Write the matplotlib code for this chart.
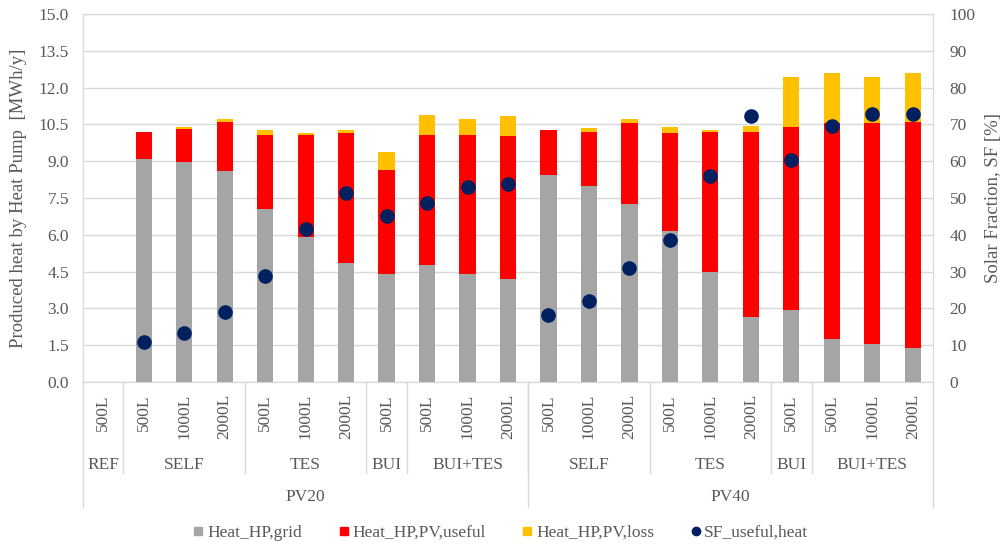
import numpy as np
import matplotlib
matplotlib.use('Agg')
import matplotlib.pyplot as plt
from matplotlib.lines import Line2D

plt.rcParams['font.family'] = ['Liberation Serif', 'DejaVu Serif']

# categories (REF + PV20 + PV40)
tanks = ['500L',
         '500L', '1000L', '2000L', '500L', '1000L', '2000L', '500L', '500L', '1000L', '2000L',
         '500L', '1000L', '2000L', '500L', '1000L', '2000L', '500L', '500L', '1000L', '2000L']
groups = ['REF', 'SELF', 'TES', 'BUI', 'BUI+TES', 'SELF', 'TES', 'BUI', 'BUI+TES']
group_sizes = [1, 3, 3, 1, 3, 3, 3, 1, 3]
pv_labels = ['PV20', 'PV40']
pv_sizes = [11, 10]

# MWh/y
heat_grid = [0.0,
             9.10, 8.96, 8.61, 7.06, 5.90, 4.86, 4.41, 4.78, 4.41, 4.18,
             8.43, 7.97, 7.25, 6.14, 4.50, 2.64, 2.94, 1.77, 1.55, 1.40]
heat_pv_useful = [0.0,
                  1.09, 1.35, 1.99, 3.01, 4.17, 5.29, 4.23, 5.29, 5.66, 5.83,
                  1.83, 2.22, 3.31, 4.01, 5.69, 7.55, 7.44, 8.77, 8.99, 9.20]
heat_pv_loss = [0.0,
                0.02, 0.07, 0.11, 0.19, 0.07, 0.11, 0.75, 0.80, 0.64, 0.82,
                0.02, 0.15, 0.15, 0.23, 0.07, 0.25, 2.05, 2.06, 1.89, 2.00]
# %
sf_useful = [np.nan,
             10.9, 13.4, 19.1, 28.9, 41.5, 51.4, 45.2, 48.6, 53.1, 53.9,
             18.3, 21.9, 31.0, 38.7, 55.9, 72.3, 60.4, 69.5, 72.7, 72.7]

c_grid = '#A5A5A5'
c_use = '#FF0000'
c_loss = '#FFC000'
c_sf = '#002060'
c_txt = '#595959'
c_line = '#D9D9D9'
fs = 12.5

fig = plt.figure(figsize=(10.03, 5.44), dpi=100)
ax = fig.add_axes([83/1003, 1-382/544, 850/1003, 368/544])
x = np.arange(len(tanks))
g = np.array(heat_grid)
u = np.array(heat_pv_useful)
lo = np.array(heat_pv_loss)
w = 0.4
ax.bar(x, g, w, color=c_grid, zorder=2)
ax.bar(x, u, w, bottom=g, color=c_use, zorder=2)
ax.bar(x, lo, w, bottom=g+u, color=c_loss, zorder=2)

ax.set_xlim(-0.5, len(tanks)-0.5)
ax.set_ylim(0, 15)
ax.set_yticks(np.arange(0, 15.01, 1.5))
ax.set_yticklabels(['%.1f' % v for v in np.arange(0, 15.01, 1.5)])
ax.grid(axis='y', color=c_line, lw=1, zorder=0)
ax.set_xticks([])
ax.tick_params(axis='y', length=0, labelsize=fs, labelcolor=c_txt, pad=10)
for s in ax.spines.values():
    s.set_color(c_line)
ax.set_ylabel('Produced heat by Heat Pump  [MWh/y]', fontsize=13.5, color=c_txt)
ax.yaxis.set_label_coords(-0.066, 0.5)

ax2 = ax.twinx()
ax2.set_ylim(0, 100)
ax2.set_yticks(np.arange(0, 101, 10))
ax2.tick_params(axis='y', length=0, labelsize=fs, labelcolor=c_txt, pad=12)
for s in ax2.spines.values():
    s.set_color(c_line)
ax2.plot(x, sf_useful, 'o', color=c_sf, ms=9.5, zorder=5)
ax2.set_ylabel('Solar Fraction, SF [%]', fontsize=13.5, color=c_txt)
ax2.yaxis.set_label_coords(1.061, 0.5)

# multi-level category axis
tr = ax.get_xaxis_transform()
for i, t in enumerate(tanks):
    ax.text(i, -0.033, t, rotation=90, ha='center', va='top', fontsize=fs, color=c_txt, transform=tr)

start = 0
for name, n in zip(groups, group_sizes):
    ax.text(start + n/2 - 0.5, -0.226, name, ha='center', va='center', fontsize=fs, color=c_txt, transform=tr)
    if start > 0:
        ax.plot([start-0.5, start-0.5], [0, -0.247], color=c_line, lw=1, transform=tr, clip_on=False)
    start += n

start = 0
for name, n in zip(pv_labels, pv_sizes):
    ax.text(start + n/2 - 0.5, -0.3125, name, ha='center', va='center', fontsize=fs, color=c_txt, transform=tr)
    ax.plot([start-0.5, start-0.5], [0, -0.34], color=c_line, lw=1, transform=tr, clip_on=False)
    start += n
ax.plot([start-0.5, start-0.5], [0, -0.34], color=c_line, lw=1, transform=tr, clip_on=False)

handles = [Line2D([], [], ls='', marker='s', color=c_grid, ms=6),
           Line2D([], [], ls='', marker='s', color=c_use, ms=6),
           Line2D([], [], ls='', marker='s', color=c_loss, ms=6),
           Line2D([], [], ls='', marker='o', color=c_sf, ms=6)]
fig.legend(handles, ['Heat_HP,grid', 'Heat_HP,PV,useful', 'Heat_HP,PV,loss', 'SF_useful,heat'],
           loc='center', bbox_to_anchor=(500/1003, 1-533/544), ncol=4, frameon=False,
           fontsize=fs, labelcolor=c_txt, handletextpad=0.1, columnspacing=2.0, handlelength=0.8)

fig.savefig('out.png', dpi=100)
